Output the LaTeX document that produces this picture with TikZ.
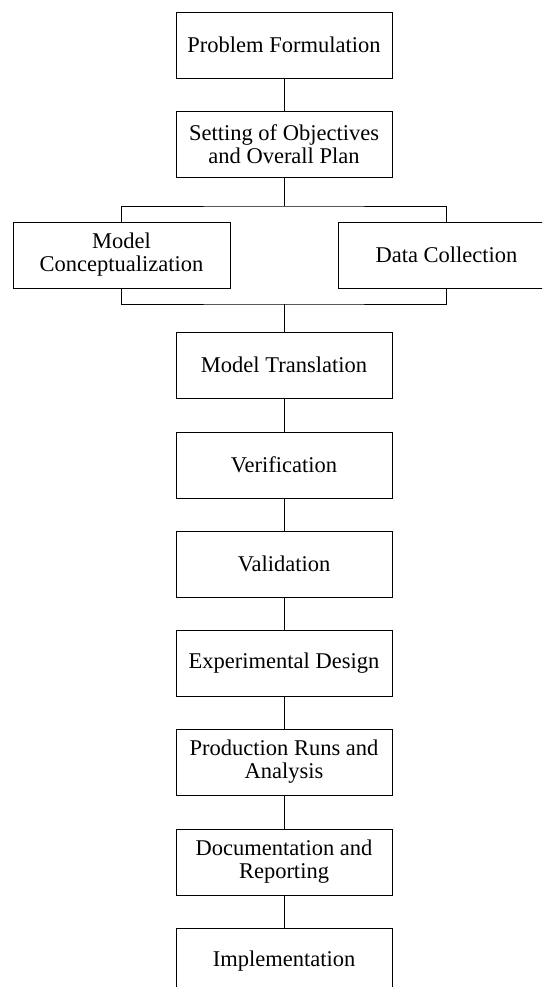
\documentclass[tikz,border=0pt]{standalone}
\usepackage{fontspec}
\setmainfont{Liberation Serif}
\usetikzlibrary{calc}

\tikzset{
	stage/.style={draw, minimum width=216, minimum height=66, align=center, inner sep=2pt, font=\fontsize{22.5}{23}\selectfont}
}

\begin{document}
\begin{tikzpicture}[x=1pt,y=-1pt,line width=0.9pt]
		\useasboundingbox (0,0) rectangle (542,987);
		\clip (0,0) rectangle (542,987);
		\path 
		(284,45) coordinate (PF)
		(PF) ++ (0,99) coordinate (SO)
		(121.5,255) coordinate (MC)
		(446.5,255) coordinate (DC)
		(284,206) coordinate (split)
		(284,304) coordinate (join)
		(284,365) coordinate (MT)
		(MT) ++ (0,100) coordinate (VE)
		(VE) ++ (0,99) coordinate (VA)
		(VA) ++ (0,99) coordinate (ED)
		(ED) ++ (0,99) coordinate (PR)
		(PR) ++ (0,100) coordinate (DR)
		(DR) ++ (0,99) coordinate (IM)
		;
		\node[stage] (form) at (PF) {Problem Formulation};
		\node[stage] (plan) at (SO) {Setting of Objectives\\and Overall Plan};
		\node[stage, minimum width=217] (concept) at (MC) {Model\\Conceptualization};
		\node[stage, minimum width=217] (data) at (DC) {Data Collection};
		\node[stage] (transl) at (MT) {Model Translation};
		\node[stage] (verif) at (VE) {Verification};
		\node[stage] (valid) at (VA) {Validation};
		\node[stage] (design) at (ED) {Experimental Design};
		\node[stage] (runs) at (PR) {Production Runs and\\Analysis};
		\node[stage] (report) at (DR) {Documentation and\\Reporting};
		\node[stage] (impl) at (IM) {Implementation};
		
		\draw (form) -- (plan);
		\draw (plan) -- (split);
		\draw (concept.north) |- (split) -| (data.north);
		\draw (concept.south) |- (join) -| (data.south);
		\draw (join) -- (transl);
		\draw (transl) -- (verif);
		\draw (verif) -- (valid);
		\draw (valid) -- (design);
		\draw (design) -- (runs);
		\draw (runs) -- (report);
		\draw (report) -- (impl);
	\end{tikzpicture}
\end{document}
